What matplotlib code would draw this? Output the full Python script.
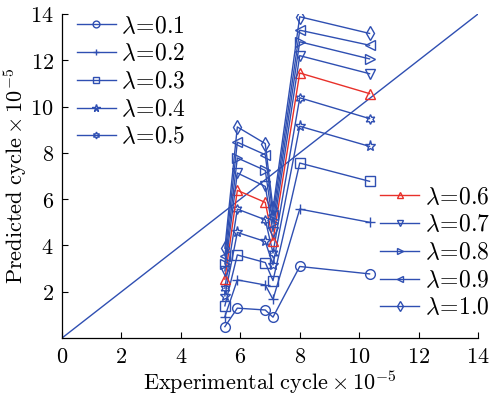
import matplotlib
matplotlib.use("Agg")
import matplotlib.pyplot as plt

plt.rcParams['mathtext.fontset'] = 'cm'
plt.rcParams['font.family'] = 'serif'
plt.rcParams['font.serif'] = ['DejaVu Serif']

x_exp = [5.48, 5.9, 6.84, 7.1, 8.0, 10.35]
lam01 = [0.49, 1.29, 1.21, 0.90, 3.09, 2.77]
lam02 = [0.92, 2.51, 2.29, 1.67, 5.57, 5.00]
lam03 = [1.39, 3.59, 3.26, 2.48, 7.56, 6.77]
lam04 = [1.82, 4.56, 4.17, 3.16, 9.15, 8.28]
lam05 = [2.15, 5.57, 5.11, 3.67, 10.38, 9.48]
lam06 = [2.54, 6.38, 5.86, 4.21, 11.45, 10.56]
lam07 = [2.90, 7.13, 6.55, 4.60, 12.20, 11.42]
lam08 = [3.20, 7.78, 7.24, 4.95, 12.80, 12.06]
lam09 = [3.55, 8.46, 7.92, 5.30, 13.30, 12.65]
lam10 = [3.88, 9.12, 8.40, 5.60, 13.88, 13.16]
series = [lam01, lam02, lam03, lam04, lam05, lam06, lam07, lam08, lam09, lam10]
labels = ['0.1', '0.2', '0.3', '0.4', '0.5', '0.6', '0.7', '0.8', '0.9', '1.0']
markers = ['o', '+', 's', '*', (6, 1, 0), '^', 'v', '>', '<', 'd']
ticks = [0, 2, 4, 6, 8, 10, 12, 14]

blue = '#2F4FB2'
red = '#E8302A'

fig = plt.figure(figsize=(4.95, 4.0), dpi=100)
ax = fig.add_axes([0.1253, 0.155, 0.8404, 0.81])

ax.plot([0, 14], [0, 14], color=blue, lw=1.0)
handles = []
for ys, lab, mk in zip(series, labels, markers):
    c = red if lab == '0.6' else blue
    ms = 8 if mk == '*' else 7
    h, = ax.plot(x_exp, ys, color=c, lw=1.0, marker=mk, markersize=ms,
                 markerfacecolor='none', markeredgecolor=c, markeredgewidth=1.0,
                 label=r'$\lambda\!=\!%s$' % lab)
    handles.append(h)

ax.set_xlim(0, 14)
ax.set_ylim(0, 14)
ax.set_xticks(ticks)
ax.set_xticklabels([r'$%d$' % t for t in ticks])
ax.set_yticks(ticks[1:])
ax.set_yticklabels([r'$%d$' % t for t in ticks[1:]])
ax.tick_params(direction='in', labelsize=16, length=4, width=0.8, pad=6)
ax.spines['top'].set_visible(False)
ax.spines['right'].set_visible(False)
ax.spines['left'].set_linewidth(0.9)
ax.spines['bottom'].set_linewidth(0.9)

ax.set_xlabel(r'$\mathrm{Experimental\ cycle}\times10^{-5}$', fontsize=16)
ax.set_ylabel(r'$\mathrm{Predicted\ cycle}\times10^{-5}$', fontsize=16)
ax.xaxis.set_label_coords(0.5, -0.092)
ax.yaxis.set_label_coords(-0.08, 0.5)

leg_kw = dict(frameon=False, fontsize=17, handlelength=1.65, labelspacing=0.2,
              handletextpad=0.25, borderaxespad=0.0, markerscale=0.7,
              borderpad=0.0)
leg1 = ax.legend(handles=handles[:5], loc='upper left', bbox_to_anchor=(0.035, 0.998),
                 **leg_kw)
ax.add_artist(leg1)
ax.legend(handles=handles[5:], loc='lower right', bbox_to_anchor=(1.03, 0.057),
          **leg_kw)

fig.savefig('out.png', dpi=100)
